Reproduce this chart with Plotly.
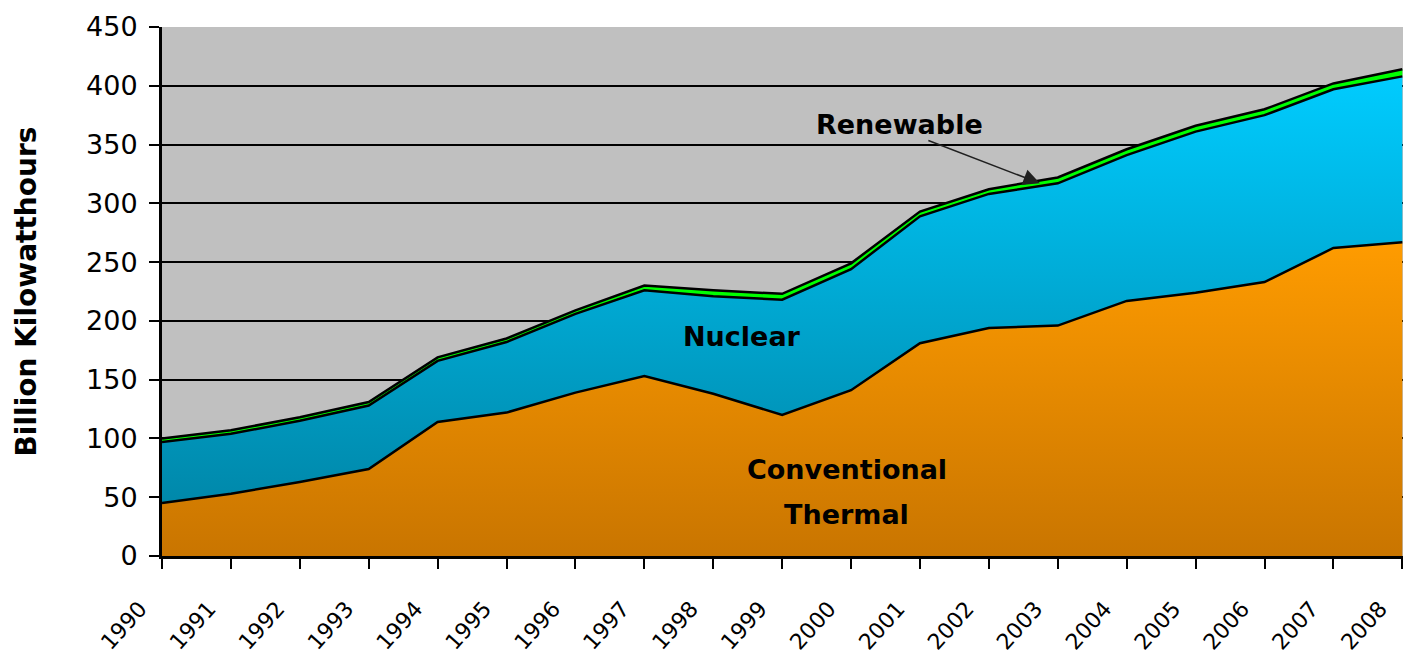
import plotly.graph_objects as go

years = list(range(1990, 2009))
tick_labels = [str(y) for y in years]

thermal = [45, 53, 63, 74, 114, 122, 139, 153, 138, 120, 141, 181, 194, 196, 217, 224, 233, 262, 267]
nuclear = [52, 51, 52, 54, 52, 60, 67, 73, 83, 98, 103, 108, 114, 121, 124, 137, 142, 135, 141]
renewable = [3, 3, 3, 3, 3, 3, 3, 4, 5, 5, 5, 4, 4, 5, 5, 5, 5, 5, 6]

y_ticks = list(range(0, 451, 50))

fig = go.Figure()

fig.add_trace(go.Scatter(
    x=years, y=thermal, stackgroup="one", mode="lines",
    line=dict(color="black", width=2.5),
    fillgradient=dict(type="vertical", start=0, stop=270,
                      colorscale=[[0, "#C97500"], [1, "#FF9C00"]]),
    name="Conventional Thermal", hoverinfo="skip",
))
fig.add_trace(go.Scatter(
    x=years, y=nuclear, stackgroup="one", mode="lines",
    line=dict(color="black", width=2.5),
    fillgradient=dict(type="vertical", start=45, stop=410,
                      colorscale=[[0, "#0088AA"], [1, "#00CCFF"]]),
    name="Nuclear", hoverinfo="skip",
))
fig.add_trace(go.Scatter(
    x=years, y=renewable, stackgroup="one", mode="lines",
    line=dict(color="black", width=2.5),
    fillcolor="#00FF00",
    name="Renewable", hoverinfo="skip",
))

ann_font = dict(family="DejaVu Sans", size=27, color="black")
fig.add_annotation(x=2000.70, y=366.7, text="<b>Renewable</b>", showarrow=False, font=ann_font)
fig.add_annotation(x=1998.41, y=186.3, text="<b>Nuclear</b>", showarrow=False, font=ann_font)
fig.add_annotation(x=1999.94, y=73.2, text="<b>Conventional</b>", showarrow=False, font=ann_font)
fig.add_annotation(x=1999.94, y=34.9, text="<b>Thermal</b>", showarrow=False, font=ann_font)
fig.add_annotation(x=2002.74, y=317, ax=2001.1, ay=354, axref="x", ayref="y",
                   text="", showarrow=True, arrowhead=2, arrowsize=2.2,
                   arrowwidth=1.5, arrowcolor="#202020")

fig.add_annotation(xref="paper", yref="paper", x=-0.1088, y=0.5, xanchor="center", yanchor="middle",
                   text="<b>Billion Kilowatthours</b>", textangle=-90,
                   showarrow=False, font=dict(family="DejaVu Sans", size=28, color="black"))

fig.update_layout(
    width=1403, height=667,
    margin=dict(l=162, r=0, t=27, b=111, autoexpand=False),
    paper_bgcolor="white", plot_bgcolor="#C0C0C0",
    showlegend=False,
    xaxis=dict(
        range=[1990, 2008.01], tickmode="array", tickvals=years, ticktext=tick_labels,
        tickangle=-48, ticks="outside", ticklen=10, tickwidth=2, tickcolor="black",
        showline=True, linecolor="black", linewidth=3, showgrid=False, zeroline=False,
        tickfont=dict(family="DejaVu Sans", size=22, color="black"),
        ticklabelstandoff=18, ticklabelshift=-22, ticklabeloverflow="allow",
        automargin=False,
    ),
    yaxis=dict(
        range=[0, 450], tickmode="array", tickvals=y_ticks,
        ticks="outside", ticklen=10, tickwidth=2, tickcolor="black",
        showline=True, linecolor="black", linewidth=3,
        showgrid=True, gridcolor="black", gridwidth=2, zeroline=False,
        tickfont=dict(family="DejaVu Sans", size=27, color="black"),
        ticklabelstandoff=6, automargin=False,
    ),
)

fig.write_html("out.html", config={"displayModeBar": False},
               post_script="document.body.style.margin='0';document.body.style.overflow='hidden';")
